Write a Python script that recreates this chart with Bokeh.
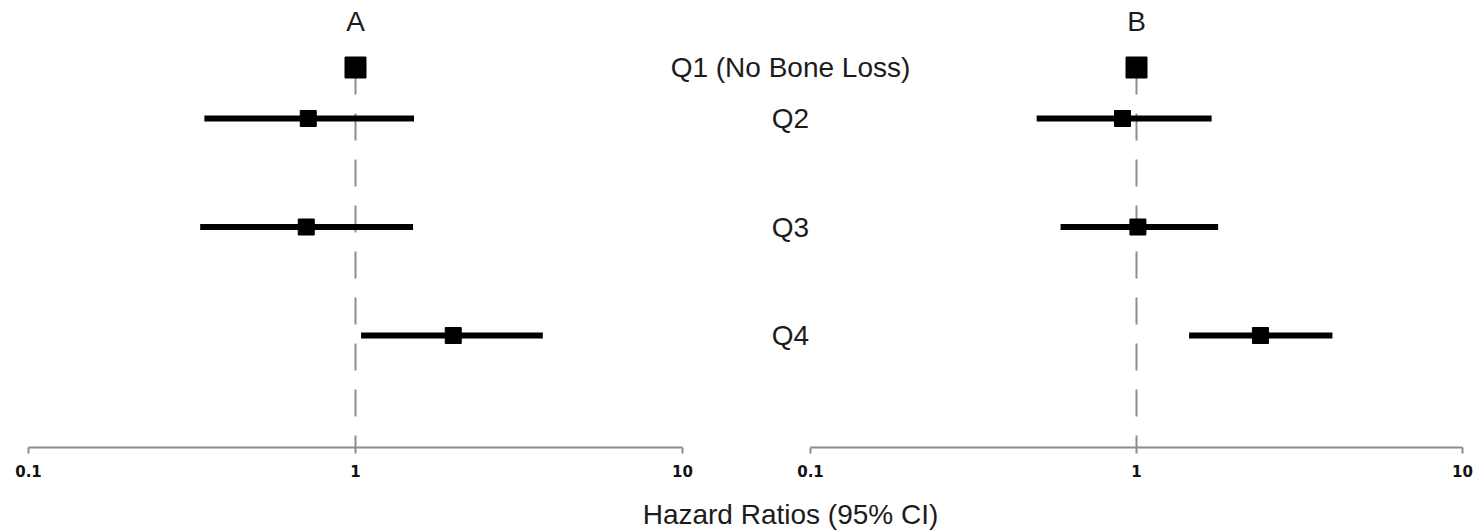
import numpy as np
from bokeh.plotting import figure
from bokeh.models import (LogAxis, Range1d, LogScale, FixedTicker, CustomJSTickFormatter,
                          ColumnDataSource, Label, LabelSet)
from bokeh.core.properties import value
from bokeh.embed import file_html
from bokeh.resources import INLINE

# ---------------- data ----------------
quartiles = ["Q1 (No Bone Loss)", "Q2", "Q3", "Q4"]
hr_a = [1.0, 0.717, 0.707, 1.99]
lo_a = [1.0, 0.345, 0.335, 1.04]
hi_a = [1.0, 1.51, 1.50, 3.74]
hr_b = [1.0, 0.906, 1.01, 2.40]
lo_b = [1.0, 0.494, 0.585, 1.45]
hi_b = [1.0, 1.70, 1.78, 3.99]
panel_titles = ["A", "B"]
tick_values = [0.1, 1, 10]
tick_labels = ["0.1", "1", "10"]
x_title = "Hazard Ratios (95% CI)"

# ---------------- layout ----------------
W, H = 1481, 532
row_y = [3.47, 3.0, 2.0, 1.0]
marker_sizes = [21, 16, 16, 16]
axis_y = -0.03
px_per_row = 108.5
row4_px = 335             # pixel (from top of canvas) of row y=1
y_top = 1 + row4_px / px_per_row
y_bot = 1 - (H - row4_px) / px_per_row

def log_range(px_lo, px_hi, W):
    dec = (px_hi - px_lo) / 2.0
    lo = -1 - px_lo / dec
    hi = 1 + (W - px_hi) / dec
    return Range1d(10 ** lo, 10 ** hi)

range_a = log_range(28, 682, W)
range_b = log_range(810, 1462, W)

p = figure(width=W, height=H, output_backend="svg", toolbar_location=None,
           x_axis_type="log", x_axis_location=None, y_axis_location=None,
           x_range=range_b, y_range=Range1d(y_bot, y_top),
           min_border=0, outline_line_color=None)
p.extra_x_ranges = {"A": range_a}
p.extra_x_scales = {"A": LogScale()}
p.xgrid.visible = False
p.ygrid.visible = False
p.background_fill_color = "white"
p.border_fill_color = "white"

FONT = "Liberation Sans"
grey = "#8c8c8c"
txt = "#1c1c1c"

fmt_code = """
const i = vals.findIndex(v => Math.abs(v - tick) < 1e-9 * Math.max(1, Math.abs(v)));
return i >= 0 ? labs[i] : '';
"""

panels = [("A", hr_a, lo_a, hi_a), ("default", hr_b, lo_b, hi_b)]
for (rname, hr, lo, hi), title in zip(panels, panel_titles):
    kw = {} if rname == "default" else {"x_range_name": rname}
    # reference line at HR = 1
    p.line(x=[1, 1], y=[row_y[0], axis_y], line_color=grey, line_width=2,
           line_dash="27 19", **kw)
    src = ColumnDataSource(dict(hr=hr, lo=lo, hi=hi, y=row_y, size=marker_sizes))
    p.segment(x0="lo", x1="hi", y0="y", y1="y", source=src, line_color="black",
              line_width=6, **kw)
    p.scatter(x="hr", y="y", size="size", marker="square", source=src,
              fill_color="black", line_color="black", **kw)
    # panel title
    p.text(x=[1], y=[3.89], text=[title], text_font=value(FONT), text_font_size="28px",
           text_align="center", text_baseline="middle", text_color=txt, **kw)
    ax = LogAxis(ticker=FixedTicker(ticks=tick_values),
                 formatter=CustomJSTickFormatter(args=dict(vals=tick_values, labs=tick_labels),
                                                 code=fmt_code),
                 bounds=(tick_values[0], tick_values[-1]),
                 fixed_location=axis_y)
    if rname != "default":
        ax.x_range_name = rname
    ax.axis_line_color = grey
    ax.axis_line_width = 2
    ax.major_tick_line_color = grey
    ax.major_tick_line_width = 2
    ax.major_tick_in = 0
    ax.major_tick_out = 6
    ax.minor_tick_line_color = None
    ax.major_label_text_font = "DejaVu Sans"
    ax.major_label_text_font_style = "bold"
    ax.major_label_text_font_size = "15px"
    ax.major_label_text_color = "#111111"
    ax.major_label_standoff = 12
    p.add_layout(ax, "below")

# row labels in the middle
lab_src = ColumnDataSource(dict(x=[790] * len(quartiles), y=row_y, text=quartiles))
p.add_layout(LabelSet(x="x", y="y", text="text", source=lab_src, x_units="screen",
                      text_font=value(FONT), text_font_size="28px", text_align="center",
                      text_baseline="middle", text_color=txt))

p.add_layout(Label(x=790, y=1 - (514 - 335) / px_per_row, x_units="screen",
                   text=x_title, text_font=FONT, text_font_size="28px",
                   text_align="center", text_baseline="middle", text_color=txt))

open("out.html", "w").write(file_html(p, INLINE))
